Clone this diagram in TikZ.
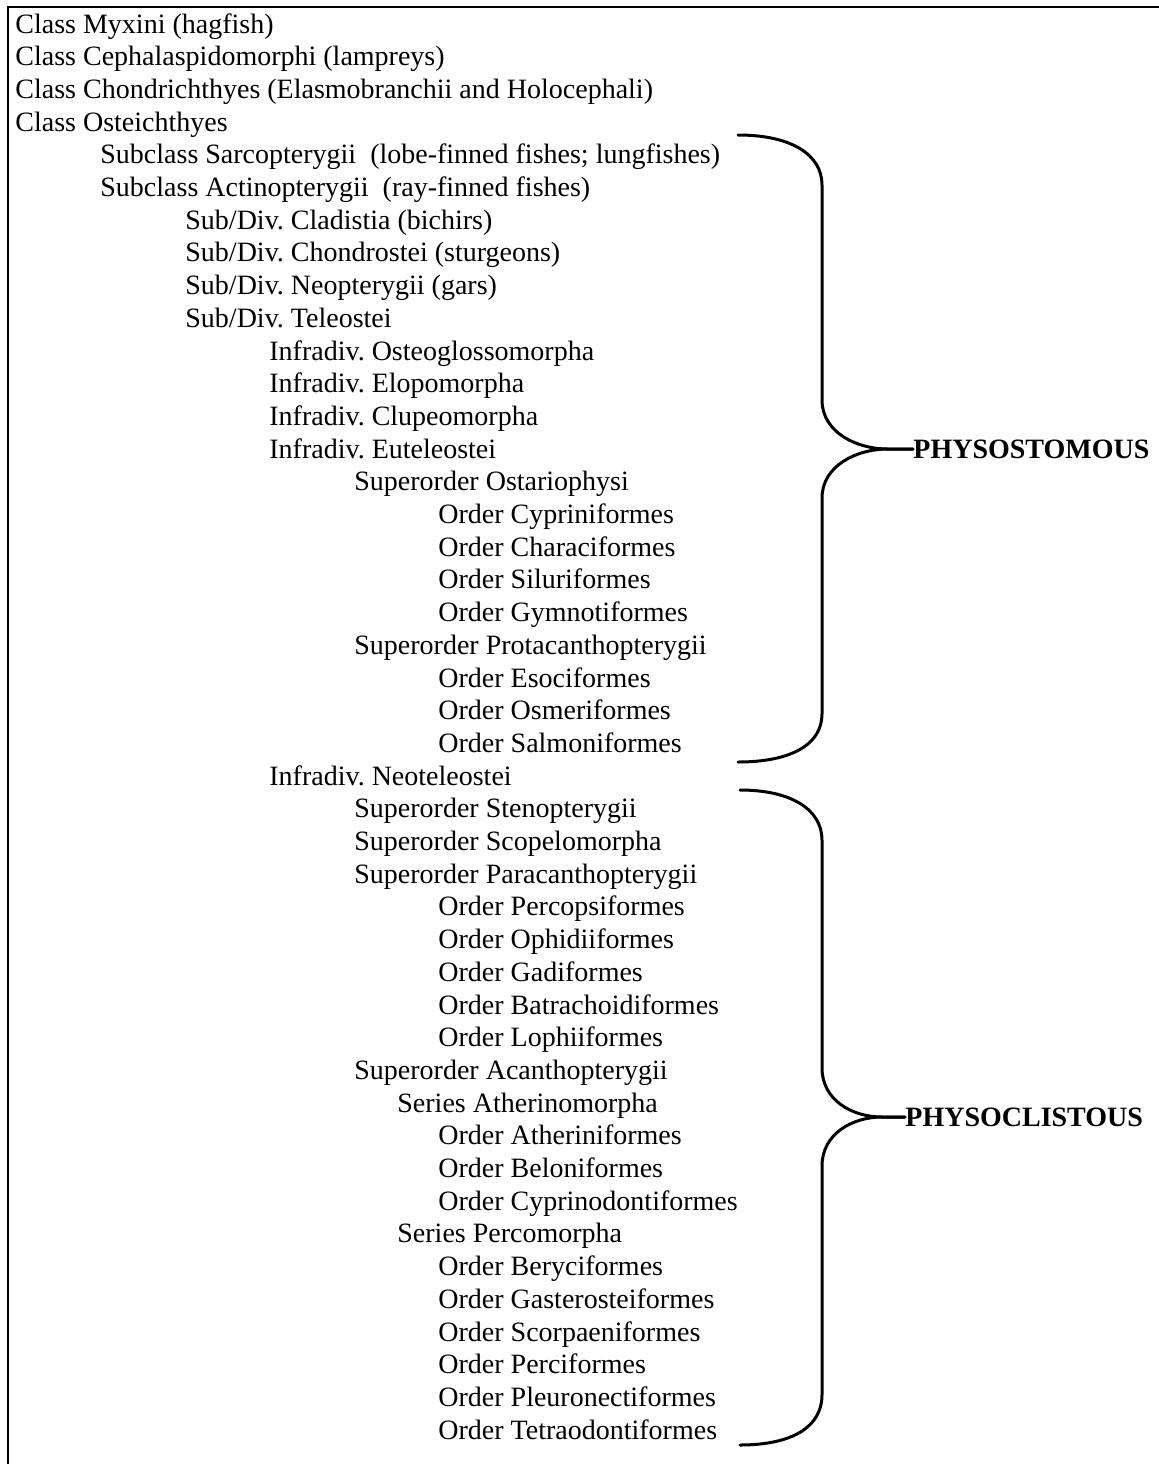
\documentclass[tikz,border=0pt]{standalone}
\usepackage{fontspec}
\setmainfont{Liberation Serif}
\usetikzlibrary{positioning}
\frenchspacing

\begin{document}
\begin{tikzpicture}[
  x=0.5pt, y=-0.5pt,
  every node/.style={font=\fontsize{14}{16}\selectfont},
  entry/.style={anchor=base west,inner sep=0pt},
  tag/.style={anchor=west,inner sep=0pt,font=\fontsize{14}{16}\selectfont\bfseries},
  brace/.style={line width=1.5pt,line cap=round},
  frame/.style={line width=1pt},
]
  \useasboundingbox (0,0) rectangle (1159,1464);

  % Frame (top and left edges)
  \draw[frame] (8,1464) -- (8,7) -- (1159,7);

  % Classes
  \node[entry] (myx) at (15,33) {Class Myxini (hagfish)};
  \node[entry] (cep) at (15,65.7) {Class Cephalaspidomorphi (lampreys)};
  \node[entry] (cho) at (15,98.4) {Class Chondrichthyes (Elasmobranchii and Holocephali)};
  \node[entry] (ost) at (15,131.1) {Class Osteichthyes};

  % Subclasses
  \node[entry] (sar) at (100,163.8) {Subclass Sarcopterygii\ \ (lobe-finned fishes; lungfishes)};
  \node[entry] (act) at (100,196.5) {Subclass Actinopterygii\ \ (ray-finned fishes)};

  % Subdivisions
  \node[entry] (cla) at (185,229.2) {Sub/Div. Cladistia (bichirs)};
  \node[entry] (chs) at (185,261.9) {Sub/Div. Chondrostei (sturgeons)};
  \node[entry] (neo) at (185,294.6) {Sub/Div. Neopterygii (gars)};
  \node[entry] (tel) at (185,327.3) {Sub/Div. Teleostei};

  % Infradivisions
  \node[entry] (ogl) at (269,360) {Infradiv. Osteoglossomorpha};
  \node[entry] (elo) at (269,392.7) {Infradiv. Elopomorpha};
  \node[entry] (clu) at (269,425.4) {Infradiv. Clupeomorpha};
  \node[entry] (eut) at (269,458.1) {Infradiv. Euteleostei};

  % Ostariophysi
  \node[entry] (osp) at (354,490.8) {Superorder Ostariophysi};
  \node[entry] (cyp) at (438,523.5) {Order Cypriniformes};
  \node[entry] (cha) at (438,556.2) {Order Characiformes};
  \node[entry] (sil) at (438,588.9) {Order Siluriformes};
  \node[entry] (gym) at (438,621.6) {Order Gymnotiformes};

  % Protacanthopterygii
  \node[entry] (pro) at (354,654.3) {Superorder Protacanthopterygii};
  \node[entry] (eso) at (438,687) {Order Esociformes};
  \node[entry] (osm) at (438,719.7) {Order Osmeriformes};
  \node[entry] (sal) at (438,752.4) {Order Salmoniformes};

  % Neoteleostei
  \node[entry] (nte) at (269,785.1) {Infradiv. Neoteleostei};
  \node[entry] (ste) at (354,817.8) {Superorder Stenopterygii};
  \node[entry] (sco) at (354,850.5) {Superorder Scopelomorpha};
  \node[entry] (par) at (354,883.2) {Superorder Paracanthopterygii};
  \node[entry] (per) at (438,915.9) {Order Percopsiformes};
  \node[entry] (oph) at (438,948.6) {Order Ophidiiformes};
  \node[entry] (gad) at (438,981.3) {Order Gadiformes};
  \node[entry] (bat) at (438,1014) {Order Batrachoidiformes};
  \node[entry] (lop) at (438,1046.7) {Order Lophiiformes};

  % Acanthopterygii
  \node[entry] (aca) at (354,1079.4) {Superorder Acanthopterygii};
  \node[entry] (ath) at (397,1112.1) {Series Atherinomorpha};
  \node[entry] (atf) at (438,1144.8) {Order Atheriniformes};
  \node[entry] (bel) at (438,1177.5) {Order Beloniformes};
  \node[entry] (cyd) at (438,1210.2) {Order Cyprinodontiformes};
  \node[entry] (pcm) at (397,1242.9) {Series Percomorpha};
  \node[entry] (ber) at (438,1275.6) {Order Beryciformes};
  \node[entry] (gas) at (438,1308.3) {Order Gasterosteiformes};
  \node[entry] (scp) at (438,1341) {Order Scorpaeniformes};
  \node[entry] (pcf) at (438,1373.7) {Order Perciformes};
  \node[entry] (ple) at (438,1406.4) {Order Pleuronectiformes};
  \node[entry] (tet) at (438,1439.1) {Order Tetraodontiformes};

  % Labels
  \node[tag] (stom) at (913,449) {PHYSOSTOMOUS};
  \node[tag] (clis) at (905,1117) {PHYSOCLISTOUS};

  % Braces
  \draw[brace] (738,135) .. controls (792,135) and (822,155) .. (822,185)
    -- (822,400) .. controls (822,432) and (856,449) .. (888,449) -- (stom.west);
  \draw[brace] (stom.west) -- (888,449) .. controls (856,449) and (822,466) .. (822,498)
    -- (822,714) .. controls (822,744) and (792,762) .. (738,762);
  \draw[brace] (740,790) .. controls (792,790) and (822,810) .. (822,840)
    -- (822,1068) .. controls (822,1100) and (852,1117) .. (882,1117) -- (clis.west);
  \draw[brace] (clis.west) -- (882,1117) .. controls (852,1117) and (822,1134) .. (822,1166)
    -- (822,1395) .. controls (822,1427) and (792,1445) .. (740,1445);
\end{tikzpicture}
\end{document}
